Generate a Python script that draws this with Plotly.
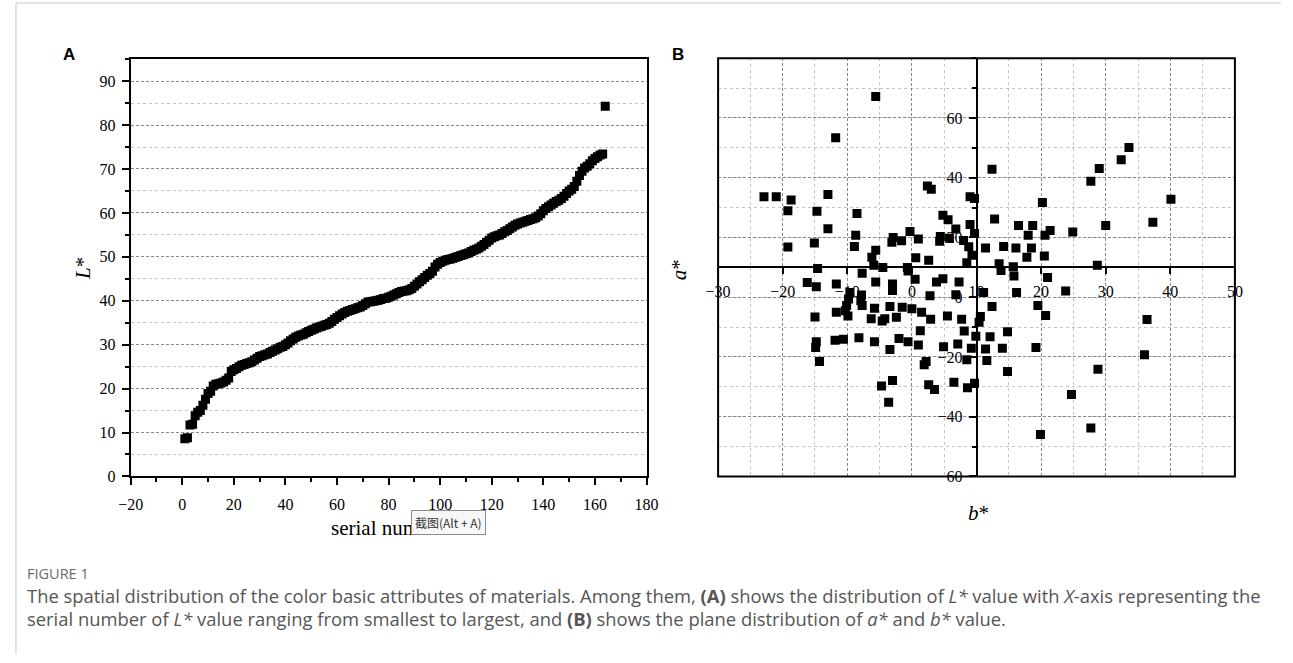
import plotly.graph_objects as go

W, H = 1293, 663

# ---------------- Panel A data: L* sorted ascending ----------------
serial_number = list(range(1, 165))
L_star = [
    8.6, 8.8, 11.7, 11.9, 13.8, 14.6, 15.0, 16.2, 17.6, 18.9,
    19.4, 20.6, 21.0, 21.1, 21.3, 21.5, 21.9, 22.4, 23.9, 24.3,
    24.6, 25.0, 25.3, 25.5, 25.7, 25.9, 26.1, 26.5, 26.9, 27.3,
    27.5, 27.7, 27.9, 28.2, 28.5, 28.8, 29.1, 29.4, 29.6, 30.0,
    30.4, 30.9, 31.3, 31.7, 32.0, 32.2, 32.4, 32.7, 33.0, 33.3,
    33.5, 33.8, 34.0, 34.2, 34.4, 34.6, 34.9, 35.3, 35.8, 36.2,
    36.6, 37.0, 37.3, 37.6, 37.8, 38.0, 38.2, 38.4, 38.6, 38.9,
    39.3, 39.7, 39.8, 39.9, 40.0, 40.1, 40.3, 40.5, 40.6, 40.8,
    41.0, 41.3, 41.6, 41.9, 42.1, 42.2, 42.3, 42.5, 42.8, 43.3,
    43.8, 44.3, 44.8, 45.3, 45.8, 46.2, 46.7, 47.7, 48.3, 48.7,
    49.0, 49.2, 49.4, 49.5, 49.7, 49.9, 50.1, 50.3, 50.5, 50.7,
    50.9, 51.2, 51.5, 51.7, 52.0, 52.4, 52.8, 53.3, 53.8, 54.3,
    54.6, 54.8, 55.0, 55.3, 55.7, 56.0, 56.4, 56.8, 57.2, 57.5,
    57.7, 57.9, 58.1, 58.3, 58.5, 58.7, 58.9, 59.3, 59.8, 60.5,
    61.0, 61.4, 61.8, 62.2, 62.6, 62.9, 63.3, 63.8, 64.4, 65.0,
    65.4, 66.0, 67.2, 68.5, 69.5, 70.2, 70.6, 71.2, 71.9, 72.4,
    72.8, 73.2, 73.4, 84.3,
]

# ---------------- Panel B data: b* (x) and a* (y) ----------------
b_star = [
    -5.6, -11.8, -22.9, -21.0, -18.7, -19.2, -13.0, -14.7, -13.0, -19.2,
    -15.1, -8.5, -8.7, -8.9, -14.6, 2.4, 3.0, 9.0, 9.7, 4.8,
    5.6, 6.8, 9.0, 9.7, -2.9, -3.1, -1.6, -0.3, 1.0, 4.4,
    4.3, 5.8, 8.0, 8.8, 9.3, 8.5, 11.4, 12.4, 12.8, -5.6,
    -6.2, -5.9, -4.5, 0.6, 2.6, -0.7, -0.6, 13.5, 13.8, 15.7,
    15.8, 17.8, 20.5, 21.0, 14.2, 16.1, 18.5, 18.0, 20.6, 21.4,
    16.5, 18.7, 20.2, 24.9, 30.0, 37.3, 40.1, 27.7, 29.0, 32.4,
    33.6, 28.7,
    0.5, 3.8, 4.8, 7.3, -16.2, -14.8, -11.7, -7.7, -5.6, -3.0,
    -3.0, -9.6, -9.8, -7.8, -10.1, -10.3, -11.7, -9.9, -7.7, -5.8,
    -6.3, -4.6, -4.2, -3.4, -2.4, -1.5, 0.0, 1.5, 2.9, 2.8,
    5.5, 6.8, 7.7, 11.1, 12.4, 10.6, 10.4, -15.0, 16.2, 23.8,
    19.5, 20.7, -7.9,
    8.1, 9.9, 12.1, 1.3, -14.8, -14.9, -11.9, -10.6, -8.2, -5.8,
    -3.4, -2.0, -0.6, 1.0, -14.3, 4.9, 7.1, 8.5, 9.2, 11.4,
    11.6, 14.0, 1.9, 2.2, -4.7, -3.0, -3.6, 2.6, 3.5, 6.5,
    8.6, 9.7, 14.8, 19.2, 14.8, 28.8, 24.7, 27.7, 19.9, 36.4,
    36.0,
]
a_star = [
    67.2, 53.4, 33.6, 33.6, 32.5, 28.9, 34.4, 28.8, 22.9, 16.8,
    18.1, 28.0, 20.7, 17.0, 9.6, 37.2, 36.1, 33.6, 33.0, 27.4,
    25.9, 22.8, 24.3, 21.3, 20.0, 18.4, 18.9, 22.0, 19.5, 20.3,
    18.7, 19.7, 19.0, 16.9, 14.0, 11.5, 16.5, 42.8, 26.2, 15.7,
    13.4, 10.7, 9.9, 13.2, 12.4, 9.9, 8.8, 11.2, 8.9, 10.2,
    7.1, 13.4, 13.8, 6.6, 17.0, 16.5, 16.5, 20.7, 20.7, 22.3,
    24.0, 24.0, 31.7, 21.8, 24.0, 25.1, 32.8, 38.8, 43.1, 46.0,
    50.1, 10.7,
    6.0, 5.1, 6.2, 5.1, 4.9, 3.5, 4.4, 8.0, 5.1, 4.4,
    2.2, 1.6, -0.6, 0.7, -2.8, -4.5, -5.0, -6.3, -2.8, -3.7,
    -7.2, -8.0, -7.2, -3.1, -6.7, -3.4, -3.9, -5.0, -7.4, 0.5,
    -6.3, 0.8, -7.4, 1.6, -3.1, -6.5, -8.4, -6.6, 1.6, 2.1,
    -2.8, -6.1, -1.2,
    -11.3, -13.1, -13.2, -11.2, -14.9, -16.8, -14.4, -14.1, -13.6, -14.9,
    -17.5, -13.8, -14.9, -16.0, -21.5, -16.6, -15.7, -20.9, -17.1, -17.3,
    -21.2, -17.1, -22.6, -21.5, -29.7, -27.9, -35.2, -29.3, -30.9, -28.5,
    -30.3, -28.8, -11.6, -16.8, -24.9, -24.1, -32.6, -43.8, -46.0, -7.5,
    -19.3,
]

# tick values of panel B vertical axis (no label at the top value 80)
a_tickvals = [-60, -40, -20, 0, 20, 40, 60]


# ---------------- geometry helpers (pixels -> paper) ----------------
def px(x):
    return x / W


def py(y):
    return 1 - y / H


A_dom_x = [px(120), px(646)]
A_dom_y = [py(483), py(60)]
B_dom_x = [px(719), px(1246)]
B_dom_y = [py(483), py(59)]

SERIF = "Liberation Serif"
major_grid = "#8a8a8a"
minor_grid = "#c4c4c4"

fig = go.Figure()

fig.add_trace(go.Scatter(
    x=serial_number, y=L_star, mode="markers",
    marker=dict(symbol="square", size=9, color="black", line=dict(width=0)),
    xaxis="x", yaxis="y", showlegend=False, hoverinfo="x+y",
))

fig.add_trace(go.Scatter(
    x=b_star, y=a_star, mode="markers",
    marker=dict(symbol="square", size=9, color="black", line=dict(width=0)),
    xaxis="x2", yaxis="y2", showlegend=False, hoverinfo="x+y",
))

tickfont = dict(family=SERIF, size=16, color="black")

fig.update_layout(
    width=W, height=H, autosize=False,
    margin=dict(l=0, r=0, t=0, b=0, pad=0),
    paper_bgcolor="white", plot_bgcolor="white",
    xaxis=dict(
        domain=A_dom_x, anchor="y", range=[-20, 180],
        tickmode="linear", tick0=0, dtick=20,
        ticks="outside", ticklen=7, tickwidth=1.5, tickcolor="black", ticklabelstandoff=5,
        minor=dict(dtick=10, ticks="outside", ticklen=4, tickwidth=1.5, tickcolor="black", showgrid=False),
        showgrid=False, zeroline=False,
        showline=True, linecolor="black", linewidth=2, mirror=True,
        tickfont=tickfont,
    ),
    yaxis=dict(
        domain=A_dom_y, anchor="x", range=[0, 95],
        tickmode="linear", tick0=0, dtick=10,
        ticks="outside", ticklen=7, tickwidth=1.5, tickcolor="black", ticklabelstandoff=3,
        showgrid=True, gridcolor=major_grid, griddash="3px,2px", gridwidth=1,
        minor=dict(dtick=5, ticks="outside", ticklen=4, tickwidth=1.5, tickcolor="black",
                   showgrid=True, gridcolor=minor_grid, griddash="dot", gridwidth=1),
        zeroline=False,
        showline=True, linecolor="black", linewidth=2, mirror=True,
        tickfont=tickfont,
    ),
    xaxis2=dict(
        domain=B_dom_x, anchor="free", position=(B_dom_y[0] + B_dom_y[1]) / 2,
        range=[-30, 50],
        tickmode="linear", tick0=0, dtick=10,
        ticks="outside", ticklen=6, tickwidth=1.5, tickcolor="black", ticklabelstandoff=4,
        showgrid=True, gridcolor=major_grid, griddash="3px,2px", gridwidth=1,
        minor=dict(dtick=5, showgrid=True, gridcolor=minor_grid, griddash="dot", gridwidth=1),
        zeroline=False,
        showline=True, linecolor="black", linewidth=1.5,
        tickfont=tickfont, layer="below traces",
    ),
    yaxis2=dict(
        domain=B_dom_y, anchor="free", position=(B_dom_x[0] + B_dom_x[1]) / 2,
        range=[-60, 80],
        tickmode="array", tickvals=a_tickvals,
        ticks="outside", ticklen=7, tickwidth=1.5, tickcolor="black", ticklabelstandoff=3,
        showgrid=True, gridcolor=major_grid, griddash="3px,2px", gridwidth=1,
        minor=dict(dtick=10, ticks="outside", ticklen=4, tickwidth=1.5, tickcolor="black",
                   showgrid=True, gridcolor=minor_grid, griddash="dot", gridwidth=1),
        zeroline=False,
        showline=True, linecolor="black", linewidth=1.5,
        tickfont=tickfont, layer="below traces",
    ),
)

shapes = [
    # frame of panel B
    dict(type="rect", xref="x2 domain", yref="y2 domain", x0=0, x1=1, y0=0, y1=1,
         line=dict(color="black", width=2), fillcolor="rgba(0,0,0,0)", layer="above"),
    # outer figure border (left and top)
    dict(type="line", xref="paper", yref="paper", x0=px(3), x1=px(3), y0=0, y1=py(3),
         line=dict(color="#c8c8c8", width=1)),
    dict(type="line", xref="paper", yref="paper", x0=px(3), x1=1, y0=py(3), y1=py(3),
         line=dict(color="#c8c8c8", width=1)),
]
fig.update_layout(shapes=shapes)


def label(text, x, y, size, family=SERIF, color="black", xanchor="center", angle=0, **kw):
    return dict(text=text, x=px(x), y=py(y), xref="paper", yref="paper",
                xanchor=xanchor, yanchor="middle", textangle=angle, showarrow=False,
                font=dict(family=family, size=size, color=color), **kw)


ann = [
    # panel letters
    label("<b>A</b>", 57, 55, 17, family="Liberation Sans"),
    label("<b>B</b>", 678, 55, 17, family="Liberation Sans"),
    # axis titles
    label("<i>L</i>*", 72, 272, 21, angle=-90),
    label("serial number", 383, 535, 21),
    label("<i>a</i>*", 679, 273, 21, angle=-90),
    label("<i>b</i>*", 985, 520, 21),
    # screenshot tooltip overlay (present in the reference picture)
    label("截图(Alt + A)", 444, 530, 12, family="Noto Sans CJK SC", color="#333",
          bgcolor="#f7f7f7", bordercolor="#8c8c8c", borderwidth=1, borderpad=3),
    # caption
    label("FIGURE 1", 12, 581, 14.5, family="Open Sans", color="#6b6b6b", xanchor="left"),
    label("The spatial distribution of the color basic attributes of materials. Among them, <b>(A)</b> shows the "
          "distribution of <i>L*</i> value with <i>X</i>-axis representing the",
          12, 604, 18.4, family="Open Sans", color="#555555", xanchor="left"),
    label("serial number of <i>L*</i> value ranging from smallest to largest, and <b>(B)</b> shows the plane "
          "distribution of <i>a*</i> and <i>b*</i> value.",
          12, 627, 18.4, family="Open Sans", color="#555555", xanchor="left"),
]
fig.update_layout(annotations=ann)

post = (
    "document.documentElement.style.margin='0';"
    "document.body.style.margin='0';"
    "document.body.style.overflow='hidden';"
)

fig.write_html(
    "out.html",
    config={"responsive": False, "displayModeBar": False},
    default_width="1293px", default_height="663px",
    post_script=post,
)
